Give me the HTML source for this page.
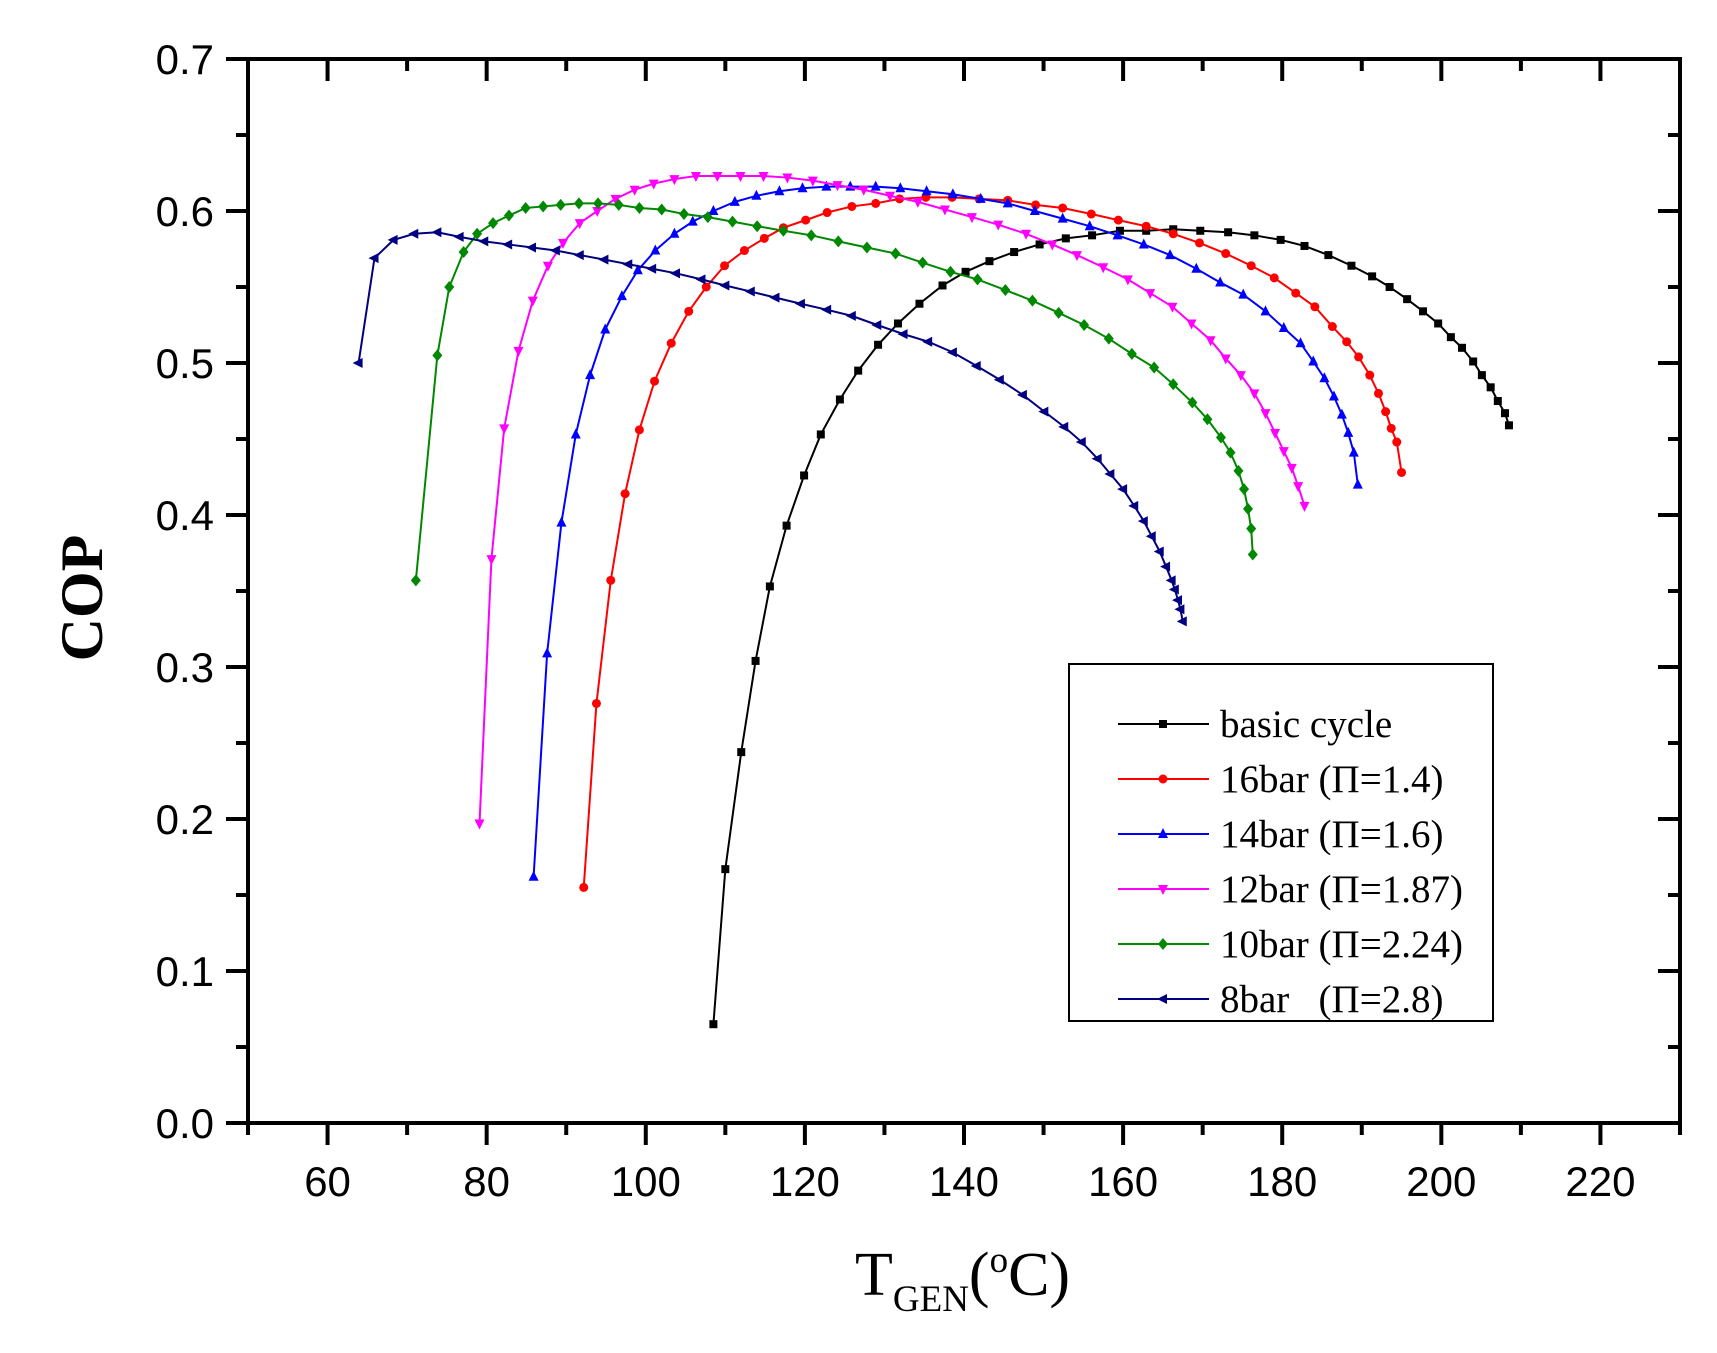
<!DOCTYPE html>
<html><head><meta charset="utf-8"><style>
html,body{margin:0;padding:0;background:#fff;}
svg{display:block;}
</style></head><body>
<svg id="s" xmlns="http://www.w3.org/2000/svg" width="1717" height="1353" viewBox="0 0 1717 1353"></svg>
<script>
const S=document.getElementById('s');
const X0=248,X1=1680,Y0=1123,Y1=59;
const fx=t=>X0+(t-50)/180*(X1-X0);
const fy=c=>Y0-c/0.7*(Y0-Y1);
let h='<rect width="1717" height="1353" fill="#fff"/>';
for(let t=50;t<=230;t+=10){const x=fx(t);const maj=t%20==0;const L=maj?22:12;
 h+=`<line x1="${x}" y1="${Y0}" x2="${x}" y2="${Y0+L}" stroke="#000" stroke-width="4"/>`;
 h+=`<line x1="${x}" y1="${Y1}" x2="${x}" y2="${Y1+L}" stroke="#000" stroke-width="4"/>`;
 if(maj&&t>=60&&t<=220) h+=`<text x="${x}" y="1196" font-family="Liberation Sans,sans-serif" font-size="42" text-anchor="middle">${t}</text>`;}
for(let i=0;i<=14;i++){const c=i*0.05;const y=fy(c);const maj=i%2==0;const L=maj?22:12;
 h+=`<line x1="${X0-L}" y1="${y}" x2="${X0}" y2="${y}" stroke="#000" stroke-width="4"/>`;
 h+=`<line x1="${X1-L}" y1="${y}" x2="${X1}" y2="${y}" stroke="#000" stroke-width="4"/>`;
 if(maj) h+=`<text x="214" y="${y+15}" font-family="Liberation Sans,sans-serif" font-size="42" text-anchor="end">${c.toFixed(1)}</text>`;}
h+=`<rect x="${X0}" y="${Y1}" width="${X1-X0}" height="${Y0-Y1}" fill="none" stroke="#000" stroke-width="4"/>`;
const D={
k:[108.5,.065,110,.167,112,.244,113.8,.304,115.6,.353,117.7,.393,119.9,.426,122,.453,124.4,.476,126.7,.495,129.2,.512,131.7,.526,134.4,.539,137.3,.551,140.2,.56,143.2,.567,146.3,.573,149.5,.578,152.8,.582,156.1,.584,159.6,.587,162.9,.587,166.3,.588,169.7,.587,173.2,.586,176.5,.584,179.8,.581,182.8,.577,185.8,.571,188.7,.564,191.3,.557,193.5,.55,195.7,.542,197.7,.534,199.6,.526,201.2,.517,202.6,.51,204,.501,205.1,.492,206.2,.484,207.1,.475,208,.467,208.5,.459],
r:[92.2,.155,93.8,.276,95.6,.357,97.4,.414,99.2,.456,101.1,.488,103.2,.513,105.4,.534,107.6,.55,109.9,.564,112.4,.574,114.9,.582,117.3,.589,120.1,.594,122.8,.599,125.9,.603,128.9,.605,131.9,.608,135.2,.609,138.5,.609,141.9,.608,145.5,.607,149,.604,152.4,.602,156,.598,159.4,.594,162.9,.59,166.3,.585,169.6,.579,172.9,.572,176.1,.564,179,.556,181.7,.546,184.1,.537,186.3,.524,188.1,.514,189.6,.504,191,.492,192.1,.48,193,.468,193.7,.457,194.4,.448,195,.428],
b:[85.9,.162,87.6,.309,89.4,.395,91.2,.453,93,.492,94.9,.522,97,.544,99,.561,101.2,.574,103.6,.585,105.9,.593,108.5,.6,111.2,.606,113.9,.61,116.8,.613,119.7,.615,122.7,.616,125.7,.616,128.9,.616,132,.615,135.3,.613,138.6,.611,142.1,.608,145.5,.605,148.9,.6,152.4,.595,155.8,.59,159.3,.584,162.6,.578,165.9,.571,169.2,.562,172.2,.553,175.1,.545,177.9,.534,180.2,.523,182.3,.513,183.9,.501,185.3,.49,186.5,.478,187.5,.466,188.3,.454,189,.441,189.5,.42],
m:[79.1,.197,80.6,.371,82.2,.457,84,.508,85.8,.541,87.7,.564,89.6,.579,91.7,.592,93.9,.6,96.2,.608,98.6,.614,101,.618,103.6,.621,106.3,.623,109,.623,111.9,.623,114.8,.623,117.8,.622,121,.62,124.1,.617,127.4,.614,130.7,.61,134.2,.606,137.6,.601,141,.596,144.3,.591,147.8,.585,151.1,.578,154.2,.571,157.5,.563,160.6,.555,163.4,.546,166.2,.537,168.6,.526,171,.515,172.9,.503,174.8,.492,176.5,.48,177.9,.467,179.1,.454,180.2,.442,181.2,.431,182,.419,182.8,.406],
g:[71.1,.357,73.8,.505,75.3,.55,77.1,.573,78.8,.585,80.8,.592,82.8,.597,84.9,.602,87.1,.603,89.3,.604,91.6,.605,94,.605,96.6,.604,99.2,.602,102,.601,104.8,.598,107.8,.596,110.9,.593,114,.59,117.3,.587,120.8,.584,124.2,.58,127.8,.576,131.4,.572,134.8,.566,138.3,.56,141.7,.555,145.2,.548,148.6,.541,151.9,.533,155.1,.525,158.2,.516,161.1,.506,163.9,.497,166.3,.486,168.7,.474,170.6,.463,172.3,.451,173.5,.441,174.5,.429,175.2,.417,175.7,.404,176.1,.391,176.3,.374],
n:[63.9,.5,65.9,.569,68.3,.581,70.9,.585,73.8,.586,76.6,.583,79.7,.58,82.7,.578,85.7,.576,88.7,.574,91.7,.571,94.8,.568,97.8,.565,100.8,.562,103.8,.559,107,.555,110,.551,113.2,.547,116.3,.543,119.5,.539,122.8,.535,125.9,.531,129.1,.525,132.4,.519,135.5,.514,138.6,.507,141.6,.498,144.5,.489,147.4,.479,150.1,.468,152.6,.458,154.8,.448,156.8,.437,158.4,.427,160,.417,161.4,.406,162.6,.396,163.6,.386,164.6,.376,165.4,.366,166.1,.357,166.5,.351,166.9,.344,167.2,.338,167.5,.33]};
const C={k:'#000',r:'#f00',b:'#00f',m:'#f0f',g:'#080',n:'#000080'};
function mk(t,x,y,c){
 if(t=='k')return `<rect x="${x-4}" y="${y-4}" width="8" height="8" fill="${c}"/>`;
 if(t=='r')return `<circle cx="${x}" cy="${y}" r="4.5" fill="${c}"/>`;
 if(t=='b')return `<polygon points="${x},${y-6} ${x-5},${y+4} ${x+5},${y+4}" fill="${c}"/>`;
 if(t=='m')return `<polygon points="${x},${y+6} ${x-5},${y-4} ${x+5},${y-4}" fill="${c}"/>`;
 if(t=='g')return `<polygon points="${x},${y-6} ${x+5},${y} ${x},${y+6} ${x-5},${y}" fill="${c}"/>`;
 return `<polygon points="${x-6},${y} ${x+4},${y-5} ${x+4},${y+5}" fill="${c}"/>`;
}
for(const k of ['k','r','b','m','g','n']){const a=D[k];let p=[];
 for(let i=0;i<a.length;i+=2)p.push([fx(a[i]),fy(a[i+1])]);
 h+=`<polyline points="${p.map(q=>q.join(',')).join(' ')}" fill="none" stroke="${C[k]}" stroke-width="2"/>`;
 for(const q of p)h+=mk(k,q[0],q[1],C[k]);}
h+=`<rect x="1069" y="664" width="424" height="357" fill="#fff" stroke="#000" stroke-width="2"/>`;
const L=[['k','basic cycle'],['r','16bar (&#928;=1.4)'],['b','14bar (&#928;=1.6)'],['m','12bar (&#928;=1.87)'],['g','10bar (&#928;=2.24)'],['n','8bar &#160;&#160;(&#928;=2.8)']];
L.forEach((e,i)=>{const y=724+i*55;
 h+=`<line x1="1118" y1="${y}" x2="1209" y2="${y}" stroke="${C[e[0]]}" stroke-width="2"/>`+mk(e[0],1163,y,C[e[0]]);
 h+=`<text x="1220" y="${y+13}" font-family="Liberation Serif,serif" font-size="39">${e[1]}</text>`;});
h+=`<text transform="translate(102,598) rotate(-90)" font-family="Liberation Serif,serif" font-size="60" font-weight="bold" text-anchor="middle">COP</text>`;
h+=`<text x="855" y="1295" font-family="Liberation Serif,serif" font-size="62">T<tspan font-size="37" dy="16">GEN</tspan><tspan dy="-16">(</tspan><tspan font-size="37" dy="-23">o</tspan><tspan dy="23">C)</tspan></text>`;
S.innerHTML=h;
</script>
</body></html>
